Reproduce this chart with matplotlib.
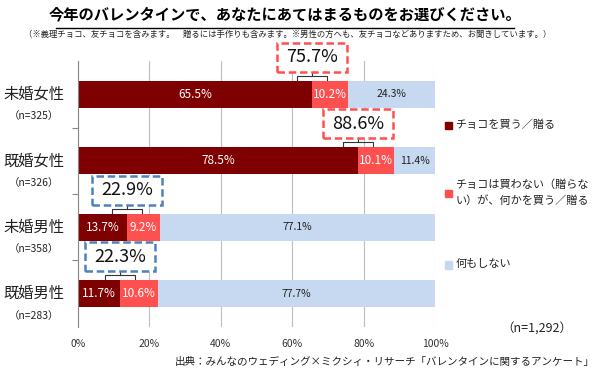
import matplotlib.pyplot as plt
from matplotlib.patches import Rectangle

plt.rcParams['font.family'] = ['Noto Sans CJK JP', 'DejaVu Sans']

groups = ['未婚女性', '既婚女性', '未婚男性', '既婚男性']
n_labels = ['（n=325）', '（n=326）', '（n=358）', '（n=283）']
buy_choco = [65.5, 78.5, 13.7, 11.7]
buy_other = [10.2, 10.1, 9.2, 10.6]
nothing = [24.3, 11.4, 77.1, 77.7]
totals = ['75.7%', '88.6%', '22.9%', '22.3%']
series_names = ['チョコを買う／贈る', 'チョコは買わない（贈らな\nい）が、何かを買う／贈る', '何もしない']
colors = ['#7f0000', '#ff5050', '#c6d9f1']
box_colors = ['#ff5050', '#ff5050', '#4f81bd', '#4f81bd']

fig = plt.figure(figsize=(6, 3.72), dpi=100)
ax = fig.add_axes([0.13, 0.121, 0.595, 0.715])

ypos = [3, 2, 1, 0]
h = 0.41
left = [0] * 4
for vals, col, name in zip([buy_choco, buy_other, nothing], colors, series_names):
    ax.barh(ypos, vals, left=left, height=h, color=col, label=name, zorder=2)
    for y, v, l in zip(ypos, vals, left):
        tc = '#222222' if col == colors[2] else 'white'
        fs = 7.5 if col == colors[2] else 8.5
        ax.text(l + v / 2, y, f'{v}%', ha='center', va='center', fontsize=fs, color=tc, zorder=3)
    left = [a + b for a, b in zip(left, vals)]

# callout boxes with brackets
bw, bh = 19.5, 0.44
for y, d, t, bc in zip(ypos, buy_choco, totals, box_colors):
    top = y + h / 2
    ax.plot([d - 4.2, d - 4.2, d + 4.2, d + 4.2], [top + 0.01, top + 0.07, top + 0.07, top + 0.01],
            color='#333333', lw=0.8, zorder=3, clip_on=False)
    ax.plot([d, d], [top + 0.07, top + 0.13], color='#333333', lw=0.8, zorder=3, clip_on=False)
    cy = top + 0.13 + bh / 2
    ax.add_patch(Rectangle((d - bw / 2, cy - bh / 2), bw, bh, fc='white', ec=bc, lw=1.8,
                           ls=(0, (3, 1.5)), zorder=4, clip_on=False))
    ax.text(d, cy, t, ha='center', va='center', fontsize=13, zorder=5, color='#111111')

ax.set_xlim(0, 100)
ax.set_ylim(-0.5, 3.5)
ax.set_xticks(range(0, 101, 20))
ax.set_xticklabels([f'{v}%' for v in range(0, 101, 20)], fontsize=7.5, color='#333333')
ax.tick_params(axis='x', length=0, pad=9)
ax.set_yticks([0.5, 1.5, 2.5])
ax.set_yticklabels([])
ax.tick_params(axis='y', length=4, color='#888888', direction='out')
ax.grid(axis='x', color='#bdbdbd', lw=0.8, zorder=0)
for s in ['top', 'right', 'bottom']:
    ax.spines[s].set_visible(False)
ax.spines['left'].set_color('#888888')

for y, g, n in zip(ypos, groups, n_labels):
    ax.text(-12.4, y, g, ha='center', va='center', fontsize=11, color='#222222', clip_on=False)
    ax.text(-12.4, y - 0.33, n, ha='center', va='center', fontsize=7.5, color='#222222', clip_on=False)

# legend
leg_y = [0.665, 0.482, 0.29]
for yy, col, name in zip(leg_y, colors, series_names):
    fig.patches.append(Rectangle((0.742, yy - 0.012), 0.012, 0.02, transform=fig.transFigure, color=col))
    fig.text(0.759, yy, name, fontsize=8, va='center', color='#222222', linespacing=1.5)

fig.text(0.475, 0.962, '今年のバレンタインで、あなたにあてはまるものをお選びください。',
         ha='center', va='center', fontsize=11, fontweight='bold')
fig.add_artist(plt.Line2D([0.093, 0.856], [0.926, 0.926], color='black', lw=1, transform=fig.transFigure))
fig.text(0.04, 0.908, '（※義理チョコ、友チョコを含みます。　贈るには手作りも含みます。※男性の方へも、友チョコなどありますため、お聞きしています。）',
         ha='left', va='center', fontsize=6.0, color='#222222')
fig.text(0.835, 0.115, '（n=1,292）', ha='left', va='center', fontsize=9, color='#222222')
fig.text(0.992, 0.027, '出典：みんなのウェディング×ミクシィ・リサーチ「バレンタインに関するアンケート」',
         ha='right', va='center', fontsize=7.6, color='#222222')

fig.savefig('out.png', dpi=100)
